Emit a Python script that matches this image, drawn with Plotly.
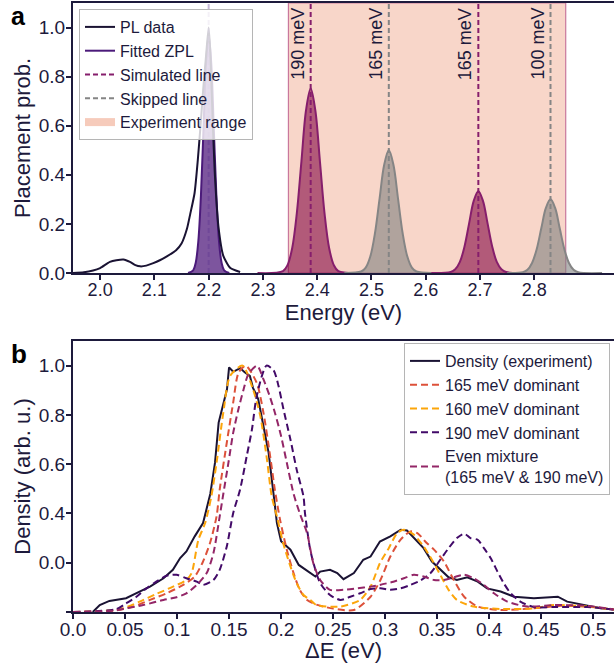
import plotly.graph_objects as go

# ---------------- Panel a data ----------------
pl_energy = [1.95, 1.97, 1.987, 2.0, 2.018, 2.03, 2.043, 2.055, 2.065, 2.074, 2.085, 2.098, 2.11,
             2.123, 2.14, 2.15, 2.16, 2.166, 2.174, 2.18, 2.185, 2.19, 2.195, 2.2, 2.203, 2.207,
             2.211, 2.218, 2.227, 2.24, 2.258]
pl_value = [0.0, 0.003, 0.01, 0.02, 0.045, 0.052, 0.055, 0.045, 0.032, 0.027, 0.03, 0.04, 0.052,
            0.068, 0.093, 0.12, 0.18, 0.24, 0.325, 0.46, 0.6, 0.75, 0.88, 1.0, 0.9, 0.65,
            0.42, 0.19, 0.07, 0.02, 0.004]

zpl_energy = [2.162, 2.1715, 2.17625, 2.181, 2.18575, 2.1905, 2.19525, 2.2, 2.20475, 2.2095,
              2.21425, 2.219, 2.22375, 2.2285, 2.238]
zpl_value = [0.0, 0.011, 0.043, 0.131, 0.315, 0.588, 0.856, 0.97, 0.856, 0.588, 0.315, 0.131,
             0.043, 0.011, 0.0]

sim1_energy = [2.29, 2.337, 2.3455, 2.354, 2.3625, 2.371, 2.3795, 2.388, 2.3965, 2.405, 2.4135,
               2.422, 2.4305, 2.439, 2.47]
sim1_value = [0.0, 0.008, 0.033, 0.102, 0.244, 0.456, 0.664, 0.752, 0.664, 0.456, 0.244, 0.102,
              0.033, 0.008, 0.0]
sim2_energy = [2.61, 2.646, 2.6545, 2.663, 2.6715, 2.68, 2.6885, 2.697, 2.7055, 2.714, 2.7225,
               2.731, 2.7395, 2.748, 2.78]
sim2_value = [0.0, 0.004, 0.015, 0.045, 0.108, 0.202, 0.294, 0.333, 0.294, 0.202, 0.108, 0.045,
              0.015, 0.004, 0.0]
skip1_energy = [2.45, 2.481, 2.4895, 2.498, 2.5065, 2.515, 2.5235, 2.532, 2.5405, 2.549, 2.5575,
                2.566, 2.5745, 2.583, 2.61]
skip1_value = [0.0, 0.006, 0.022, 0.068, 0.162, 0.303, 0.441, 0.5, 0.441, 0.303, 0.162, 0.068,
               0.022, 0.006, 0.0]
skip2_energy = [2.75, 2.779, 2.7875, 2.796, 2.8045, 2.813, 2.8215, 2.83, 2.8385, 2.847, 2.8555,
                2.864, 2.8725, 2.881, 2.925]
skip2_value = [0.0, 0.003, 0.013, 0.041, 0.097, 0.182, 0.265, 0.3, 0.265, 0.182, 0.097, 0.041,
               0.013, 0.003, 0.0]

zpl_line = 2.2
sim_lines = [2.388, 2.697]
skip_lines = [2.532, 2.83]
line_labels_x = [2.388, 2.532, 2.697, 2.83]
line_labels = ["190 meV", "165 meV", "165 meV", "100 meV"]
exp_range = [2.347, 2.858]

a_xticks = [2.0, 2.1, 2.2, 2.3, 2.4, 2.5, 2.6, 2.7, 2.8]
a_xticklabels = ["2.0", "2.1", "2.2", "2.3", "2.4", "2.5", "2.6", "2.7", "2.8"]
a_yticks = [0.0, 0.2, 0.4, 0.6, 0.8, 1.0]
a_yticklabels = ["0.0", "0.2", "0.4", "0.6", "0.8", "1.0"]

# ---------------- Panel b data ----------------
exp_de = [0.019, 0.0257, 0.035, 0.051, 0.064, 0.074, 0.087, 0.096, 0.103, 0.109, 0.117, 0.125,
          0.132, 0.1365, 0.14, 0.143, 0.148, 0.150, 0.154, 0.1606, 0.165, 0.170, 0.173, 0.178,
          0.183, 0.188, 0.193, 0.196, 0.200, 0.209, 0.217, 0.225, 0.233, 0.2376, 0.247, 0.254,
          0.260, 0.270, 0.279, 0.286, 0.295, 0.305, 0.315, 0.321, 0.329, 0.337, 0.345, 0.353,
          0.361, 0.369, 0.379, 0.389, 0.398, 0.411, 0.424, 0.443, 0.466, 0.475, 0.491, 0.507, 0.52]
exp_density = [0.0, 0.028, 0.045, 0.056, 0.083, 0.103, 0.137, 0.171, 0.219, 0.246, 0.307, 0.361,
               0.48, 0.606, 0.769, 0.823, 0.904, 0.993, 0.975, 0.99, 0.973, 0.958, 0.91, 0.864,
               0.755, 0.647, 0.47, 0.361, 0.287, 0.253, 0.191, 0.168, 0.144, 0.164, 0.171, 0.158,
               0.133, 0.158, 0.212, 0.225, 0.286, 0.307, 0.334, 0.331, 0.293, 0.259, 0.205, 0.171,
               0.141, 0.13, 0.141, 0.123, 0.096, 0.083, 0.062, 0.056, 0.062, 0.042, 0.028, 0.015, 0.01]

d165_de = [0.0, 0.042, 0.058, 0.074, 0.09, 0.106, 0.117, 0.125, 0.1317, 0.138, 0.141, 0.1478,
           0.154, 0.159, 0.166, 0.1766, 0.183, 0.1895, 0.194, 0.199, 0.2055, 0.212, 0.218, 0.225,
           0.234, 0.25, 0.27, 0.286, 0.2955, 0.305, 0.3147, 0.3244, 0.331, 0.34, 0.347, 0.3565,
           0.366, 0.376, 0.389, 0.411, 0.443, 0.469, 0.4945, 0.52]
d165_val = [0.0, 0.007, 0.022, 0.049, 0.076, 0.11, 0.144, 0.205, 0.28, 0.388, 0.497, 0.687,
            0.851, 0.97, 1.0, 0.93, 0.81, 0.633, 0.497, 0.375, 0.253, 0.158, 0.09, 0.049,
            0.03, 0.014, 0.008, 0.062, 0.13, 0.225, 0.293, 0.327, 0.32, 0.28, 0.253, 0.205,
            0.13, 0.062, 0.022, 0.008, 0.015, 0.025, 0.022, 0.01]

d160_de = [0.0, 0.026, 0.048, 0.064, 0.08, 0.093, 0.109, 0.114, 0.1205, 0.127, 0.133, 0.138,
           0.1445, 0.151, 0.163, 0.173, 0.18, 0.186, 0.191, 0.196, 0.202, 0.209, 0.215, 0.2215,
           0.228, 0.234, 0.257, 0.276, 0.286, 0.295, 0.3035, 0.3115, 0.318, 0.3275, 0.337, 0.345,
           0.353, 0.361, 0.369, 0.385, 0.411, 0.443, 0.4625, 0.4945, 0.52]
d160_val = [0.0, 0.003, 0.015, 0.042, 0.073, 0.097, 0.13, 0.158, 0.293, 0.361, 0.47, 0.606,
            0.81, 0.958, 1.0, 0.904, 0.796, 0.633, 0.47, 0.388, 0.28, 0.185, 0.117, 0.069,
            0.049, 0.028, 0.022, 0.049, 0.103, 0.198, 0.259, 0.32, 0.334, 0.314, 0.266, 0.212,
            0.151, 0.09, 0.049, 0.022, 0.012, 0.015, 0.028, 0.022, 0.01]

d190_de = [0.0, 0.042, 0.051, 0.061, 0.0706, 0.08, 0.09, 0.0996, 0.109, 0.119, 0.125, 0.135,
           0.141, 0.1478, 0.154, 0.1606, 0.167, 0.172, 0.1766, 0.186, 0.193, 0.1975, 0.2023,
           0.209, 0.215, 0.2215, 0.223, 0.228, 0.233, 0.2376, 0.247, 0.257, 0.2666, 0.276, 0.286,
           0.2955, 0.305, 0.315, 0.3244, 0.334, 0.3437, 0.353, 0.361, 0.369, 0.376, 0.382, 0.389,
           0.395, 0.4014, 0.408, 0.414, 0.4207, 0.43, 0.443, 0.4625, 0.4945, 0.52]
d190_val = [0.0, 0.012, 0.035, 0.062, 0.096, 0.123, 0.147, 0.151, 0.137, 0.123, 0.11, 0.13,
            0.171, 0.266, 0.402, 0.497, 0.633, 0.741, 0.877, 1.0, 0.98, 0.918, 0.823,
            0.7, 0.578, 0.47, 0.40, 0.253, 0.171, 0.117, 0.069, 0.049, 0.062, 0.076, 0.093,
            0.096, 0.09, 0.096, 0.11, 0.128, 0.158, 0.212, 0.259, 0.30, 0.318, 0.30, 0.293,
            0.259, 0.219, 0.164, 0.117, 0.076, 0.042, 0.02, 0.02, 0.02, 0.01]

mix_de = [0.0, 0.038, 0.051, 0.0674, 0.087, 0.0996, 0.109, 0.119, 0.1285, 0.135, 0.141, 0.1445,
          0.1494, 0.154, 0.159, 0.164, 0.1686, 0.177, 0.183, 0.189, 0.194, 0.2, 0.2055, 0.212,
          0.218, 0.225, 0.231, 0.2376, 0.247, 0.26, 0.273, 0.286, 0.295, 0.308, 0.318, 0.3275,
          0.337, 0.347, 0.3565, 0.366, 0.376, 0.385, 0.395, 0.4046, 0.4175, 0.437, 0.4625,
          0.4945, 0.52]
mix_val = [0.0, 0.005, 0.015, 0.028, 0.049, 0.06, 0.076, 0.11, 0.158, 0.239, 0.388, 0.48,
           0.606, 0.728, 0.823, 0.904, 0.966, 1.0, 0.945, 0.877, 0.81, 0.714, 0.606, 0.48,
           0.40, 0.32, 0.198, 0.13, 0.09, 0.09, 0.096, 0.103, 0.11, 0.123, 0.137, 0.151,
           0.144, 0.13, 0.13, 0.141, 0.151, 0.137, 0.11, 0.076, 0.042, 0.022, 0.028,
           0.025, 0.01]

b_xticks = [0.0, 0.05, 0.1, 0.15, 0.2, 0.25, 0.3, 0.35, 0.4, 0.45, 0.5]
b_xticklabels = ["0.0", "0.05", "0.1", "0.15", "0.2", "0.25", "0.3", "0.35", "0.4", "0.45", "0.5"]
b_yticks = [0.0, 0.2, 0.4, 0.6, 0.8, 1.0]
b_yticklabels = ["", "0.0", "0.4", "0.6", "0.8", "1.0"]

# ---------------- Styles ----------------
INK = "#1d1a3c"
PL_COLOR = "#1a1333"
ZPL_COLOR = "#4b1a7a"
SIM_COLOR = "#861e6c"
SKIP_COLOR = "#858585"
RANGE_FILL = "#f8d6c9"
FONT = "Liberation Sans, Arial, sans-serif"

fig = go.Figure()

# simulated / skipped peaks
for ex, ey in [(sim1_energy, sim1_value), (sim2_energy, sim2_value)]:
    fig.add_trace(go.Scatter(x=ex, y=ey, mode="lines", line=dict(color=SIM_COLOR, width=2, shape="spline"),
                             fill="tozeroy", fillcolor="rgba(128,0,64,0.58)", showlegend=False,
                             xaxis="x", yaxis="y", hoverinfo="skip"))
for ex, ey in [(skip1_energy, skip1_value), (skip2_energy, skip2_value)]:
    fig.add_trace(go.Scatter(x=ex, y=ey, mode="lines", line=dict(color=SKIP_COLOR, width=2, shape="spline"),
                             fill="tozeroy", fillcolor="rgba(128,128,128,0.6)", showlegend=False,
                             xaxis="x", yaxis="y", hoverinfo="skip"))
# fitted ZPL
fig.add_trace(go.Scatter(x=zpl_energy, y=zpl_value, mode="lines", line=dict(color=ZPL_COLOR, width=2, shape="spline"),
                         fill="tozeroy", fillcolor="rgba(75,20,120,0.72)", showlegend=False,
                         xaxis="x", yaxis="y"))
# PL data
fig.add_trace(go.Scatter(x=pl_energy, y=pl_value, mode="lines", name="PL data",
                         line=dict(color=PL_COLOR, width=2, shape="spline", smoothing=0.6),
                         legend="legend", legendrank=1, xaxis="x", yaxis="y"))
# vertical lines
fig.add_trace(go.Scatter(x=[zpl_line, zpl_line], y=[0, 1.1], mode="lines", showlegend=False,
                         line=dict(color="rgba(90,50,140,0.35)", width=2, dash="5px,3px"),
                         xaxis="x", yaxis="y"))
for i, e in enumerate(sim_lines):
    fig.add_trace(go.Scatter(x=[e, e], y=[0, 1.1], mode="lines", name="Simulated line",
                             showlegend=(i == 0), legendgroup="sim", legend="legend", legendrank=3,
                             line=dict(color=SIM_COLOR, width=2, dash="5px,3px"), xaxis="x", yaxis="y"))
for i, e in enumerate(skip_lines):
    fig.add_trace(go.Scatter(x=[e, e], y=[0, 1.1], mode="lines", name="Skipped line",
                             showlegend=(i == 0), legendgroup="skip", legend="legend", legendrank=4,
                             line=dict(color=SKIP_COLOR, width=2, dash="5px,3px"), xaxis="x", yaxis="y"))
# legend-only entries
fig.add_trace(go.Scatter(x=[None], y=[None], mode="lines", name="Fitted ZPL", legend="legend", legendrank=2,
                         line=dict(color=ZPL_COLOR, width=2), xaxis="x", yaxis="y"))
fig.add_trace(go.Scatter(x=[None], y=[None], mode="lines", name="Experiment range", legend="legend", legendrank=5,
                         line=dict(color="#f6cbbb", width=8), xaxis="x", yaxis="y"))

# ---------------- Panel b traces ----------------
fig.add_trace(go.Scatter(x=exp_de, y=exp_density, mode="lines", name="Density (experiment)",
                         line=dict(color=PL_COLOR, width=2), legend="legend2", xaxis="x2", yaxis="y2"))
b_series = [
    ("165 meV dominant", d165_de, d165_val, "#dd513a"),
    ("160 meV dominant", d160_de, d160_val, "#fca50a"),
    ("190 meV dominant", d190_de, d190_val, "#420a68"),
    ("Even mixture<br>(165 meV & 190 meV)", mix_de, mix_val, "#932667"),
]
for name, xs, ys, col in b_series:
    fig.add_trace(go.Scatter(x=xs, y=ys, mode="lines", name=name,
                             line=dict(color=col, width=2, dash="7px,4px", shape="spline", smoothing=0.7),
                             legend="legend2", xaxis="x2", yaxis="y2"))

# ---------------- Layout ----------------
axis_common = dict(showline=True, linecolor=INK, linewidth=2, ticks="outside", ticklen=5, tickwidth=1.5,
                   tickcolor=INK, showgrid=False, zeroline=False, automargin=False,
                   tickfont=dict(size=19, color=INK, family=FONT))

ya_top = 1.0
ya_bot = (612 - 273) / 609
yb_top = (612 - 341) / 609

fig.update_layout(
    width=614, height=663,
    margin=dict(l=73, r=0, t=3, b=51),
    paper_bgcolor="white", plot_bgcolor="white",
    font=dict(family=FONT, color=INK),
    xaxis=dict(axis_common, domain=[0, 1], anchor="y", range=[1.95, 2.947], mirror=True,
               tickvals=a_xticks, ticktext=a_xticklabels, tickfont=dict(size=18, color=INK, family=FONT),
               ticklabelstandoff=-6,
               title=dict(text="Energy (eV)", font=dict(size=22, color=INK), standoff=2)),
    yaxis=dict(axis_common, domain=[ya_bot, ya_top], anchor="x", range=[0, 1.1],
               tickvals=a_yticks, ticktext=a_yticklabels, ticklabelstandoff=-3,
               title=dict(text="Placement prob.", font=dict(size=22, color=INK), standoff=2)),
    xaxis2=dict(axis_common, domain=[0, 1], anchor="y2", range=[0, 0.52], mirror=True,
                tickvals=b_xticks, ticktext=b_xticklabels, ticklabelstandoff=-6,
                title=dict(text="ΔE (eV)", font=dict(size=22, color=INK), standoff=2)),
    yaxis2=dict(axis_common, domain=[0, yb_top], anchor="x2", range=[0, 1.1],
                tickvals=b_yticks, ticktext=b_yticklabels, ticklabelstandoff=-3,
                title=dict(text="Density (arb. u.)", font=dict(size=22, color=INK), standoff=2)),
    legend=dict(x=(79 - 73) / 541, y=(612 - 9) / 609, xanchor="left", yanchor="top",
                bgcolor="rgba(255,255,255,0.8)", bordercolor="#b5b5b5", borderwidth=1,
                font=dict(size=16, color=INK, family=FONT), tracegroupgap=0, itemwidth=30,
                traceorder="normal"),
    legend2=dict(x=(610 - 73) / 541, y=(612 - 343) / 609, xanchor="right", yanchor="top",
                 bgcolor="rgba(255,255,255,0.8)", bordercolor="#b5b5b5", borderwidth=1,
                 font=dict(size=16, color=INK, family=FONT), tracegroupgap=0, itemwidth=30,
                 traceorder="normal"),
    showlegend=True,
)

# experiment range shading
fig.add_shape(type="rect", xref="x", yref="y domain", x0=exp_range[0], x1=exp_range[1], y0=0, y1=1,
              fillcolor=RANGE_FILL, line=dict(color="#c9789c", width=1.2), layer="below")

# rotated line labels
for xv, txt in zip(line_labels_x, line_labels):
    fig.add_annotation(x=xv, y=1, xref="x", yref="y domain", text=txt, showarrow=False,
                       textangle=-90, xanchor="right", yanchor="top", xshift=-1, yshift=-3,
                       font=dict(size=18, color=INK, family=FONT))

# panel letters
fig.add_annotation(x=-0.118, y=1.0049, xref="paper", yref="paper", text="<b>a</b>", showarrow=False,
                   xanchor="left", yanchor="top", font=dict(size=25, color="black", family=FONT))
fig.add_annotation(x=-0.118, y=0.424, xref="paper", yref="paper", text="<b>b</b>", showarrow=False,
                   xanchor="left", yanchor="middle", font=dict(size=26, color="black", family=FONT))

fig.write_html("out.html")
